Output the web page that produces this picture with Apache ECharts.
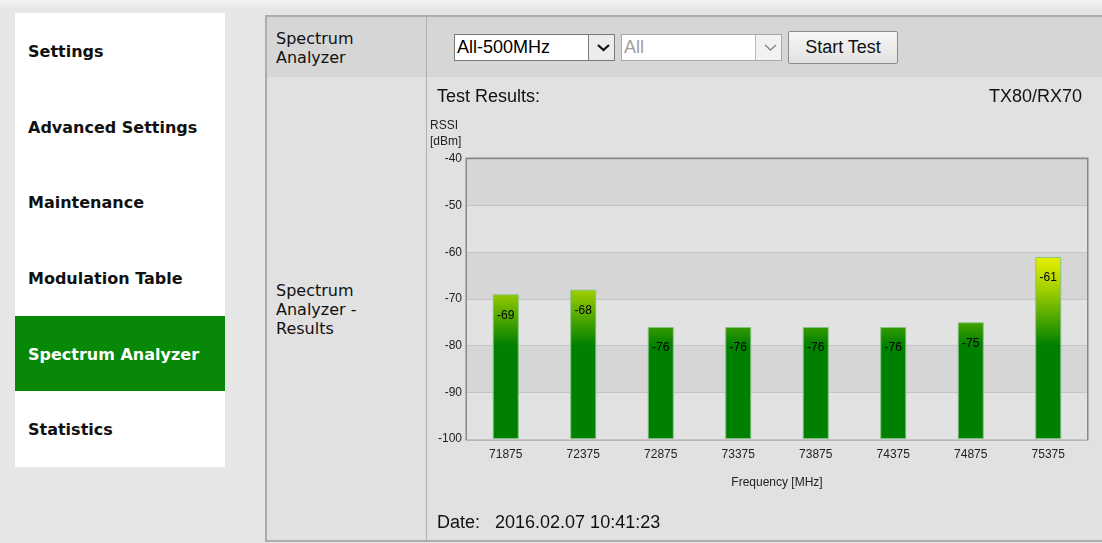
<!DOCTYPE html>
<html>
<head>
<meta charset="utf-8">
<script src="https://cdn.jsdelivr.net/npm/echarts@6/dist/echarts.min.js"></script>
<style>
  html, body { margin: 0; padding: 0; }
  body {
    width: 1102px; height: 543px; overflow: hidden; position: relative;
    background: linear-gradient(#f4f4f4 0px, #e6e6e6 9px, #e6e6e6 100%);
    font-family: "DejaVu Sans", Verdana, sans-serif;
  }
  .menu { position: absolute; left: 15px; top: 13px; width: 210px; height: 454px; background: #fff; }
  .menu div {
    height: 75.67px; line-height: 77px; padding-left: 13px;
    font-weight: bold; font-size: 16px; color: #111; box-sizing: border-box;
  }
  .menu div.on { background: #078907; color: #fff; }
  .tbl {
    position: absolute; left: 265px; top: 15px; width: 850px; height: 523px;
    border: 2px solid #adadad; background: #e0e1e0;
  }
  .head { position: absolute; left: 0; top: 0; right: 0; height: 60px; background: #d6d6d6; }
  .divider { position: absolute; left: 159px; top: 0; bottom: 0; width: 1px; background: #b0b0b0; }
  .cell {
    position: absolute; left: 9px; font-size: 16px; line-height: 19px; color: #111;
  }
  .sel {
    position: absolute; top: 17px; height: 25px; width: 159px; background: #fff;
    border: 1px solid #7a7a7a; font-family: "Liberation Sans", Arial, sans-serif;
    font-size: 18px; line-height: 25px; text-indent: 2px; box-sizing: content-box;
  }
  .sel .btn {
    position: absolute; right: 0; top: 0; width: 25px; height: 25px;
    background: #ececec; border-left: 1px solid #7a7a7a;
  }
  .sel.dis { color: #a0a0a0; border-color: #a8a8a8; }
  .sel.dis .btn { background: #f2f2f2; border-left-color: #b8b8b8; }
  .start {
    position: absolute; left: 521px; top: 14px; width: 108px; height: 31px;
    border: 1px solid #8a8a8a; border-radius: 2px;
    background: linear-gradient(#f6f6f6, #e2e2e2);
    font-family: "Liberation Sans", Arial, sans-serif; font-size: 18px;
    line-height: 31px; text-align: center; color: #111;
  }
  #chart { position: absolute; left: 426px; top: 77px; width: 676px; height: 463px; }
</style>
</head>
<body>
<div class="menu">
  <div>Settings</div>
  <div>Advanced Settings</div>
  <div>Maintenance</div>
  <div>Modulation Table</div>
  <div class="on">Spectrum Analyzer</div>
  <div>Statistics</div>
</div>
<div class="tbl">
  <div class="head"></div>
  <div class="divider"></div>
  <div class="cell" style="top:12px">Spectrum<br>Analyzer</div>
  <div class="cell" style="top:264px">Spectrum<br>Analyzer -<br>Results</div>
  <div class="sel" style="left:187px">All-500MHz
    <div class="btn"><svg width="25" height="25"><polyline points="7,10 12.5,15 18,10" fill="none" stroke="#111" stroke-width="2.2"/></svg></div>
  </div>
  <div class="sel dis" style="left:354px">All
    <div class="btn"><svg width="25" height="25"><polyline points="7,10 12.5,15 18,10" fill="none" stroke="#888" stroke-width="1.5"/></svg></div>
  </div>
  <div class="start">Start Test</div>
</div>
<div id="chart"></div>
<script>
  // 频率 / RSSI
  const freqs = ['71875', '72375', '72875', '73375', '73875', '74375', '74875', '75375'];
  const rssi = [-69, -68, -76, -76, -76, -76, -75, -61];
  const yMin = -100, yMax = -40, yStep = 10;
  const testTitle = 'Test Results:';
  const linkName = 'TX80/RX70';
  const dateText = 'Date:   2016.02.07 10:41:23';

  // colour ramp by value (yellow at top, green below -79)
  const ramp = [[-60, [242, 242, 0]], [-68, [160, 207, 0]], [-80, [0, 128, 0]]];

  function rampColor(v) {
    if (v >= ramp[0][0]) return ramp[0][1];
    for (let i = 0; i < ramp.length - 1; i++) {
      const a = ramp[i], b = ramp[i + 1];
      if (v <= a[0] && v >= b[0]) {
        const t = (a[0] - v) / (a[0] - b[0]);
        return a[1].map((c, k) => Math.round(c + (b[1][k] - c) * t));
      }
    }
    return ramp[ramp.length - 1][1];
  }
  const rgb = c => `rgb(${c[0]},${c[1]},${c[2]})`;

  function barColor(v) {
    const span = v - yMin;
    const stops = [{ offset: 0, color: rgb(rampColor(v)) }];
    ramp.forEach(s => {
      if (s[0] < v && s[0] > yMin) stops.push({ offset: (v - s[0]) / span, color: rgb(s[1]) });
    });
    stops.push({ offset: 1, color: rgb(ramp[ramp.length - 1][1]) });
    return new echarts.graphic.LinearGradient(0, 0, 0, 1, stops);
  }

  // bars grow from the bottom (-100): plot height above yMin, label with real dBm
  const font = '"Liberation Sans", Arial, sans-serif';
  const chart = echarts.init(document.getElementById('chart'));
  chart.setOption({
    animation: false,
    title: [
      { text: testTitle, left: 11, top: 11, padding: 0, textStyle: { fontFamily: font, fontSize: 18, fontWeight: 'normal', color: '#111' } },
      { text: linkName, right: 20, top: 11, padding: 0, textStyle: { fontFamily: font, fontSize: 18, fontWeight: 'normal', color: '#111' } },
      { text: 'RSSI\n[dBm]', left: 4, top: 41, padding: 0, textStyle: { fontFamily: font, fontSize: 12, lineHeight: 16, fontWeight: 'normal', color: '#222' } },
      { text: dateText, left: 11, top: 437, padding: 0, textStyle: { fontFamily: font, fontSize: 18, fontWeight: 'normal', color: '#111' } }
    ],
    grid: {
      left: 41, right: 15, top: 82, bottom: 101,
      show: true, borderColor: '#888', borderWidth: 3, backgroundColor: 'transparent'
    },
    xAxis: {
      type: 'category',
      data: freqs,
      name: 'Frequency [MHz]',
      nameLocation: 'middle',
      nameGap: 38,
      nameTextStyle: { fontFamily: font, fontSize: 12, color: '#222' },
      axisLine: { show: false },
      axisTick: { show: false },
      axisLabel: { fontFamily: font, fontSize: 12, color: '#222', margin: 10 }
    },
    yAxis: {
      type: 'value',
      min: 0, max: yMax - yMin, interval: yStep,
      axisLine: { show: false },
      axisTick: { show: false },
      axisLabel: { fontFamily: font, fontSize: 12, color: '#222', margin: 5, formatter: n => n + yMin },
      splitLine: { lineStyle: { color: '#c4c4c4', width: 1 } },
      splitArea: { show: true, areaStyle: { color: ['#e1e2e1', '#d6d6d6'] } }
    },
    series: [{
      type: 'bar',
      barWidth: 26,
      data: rssi.map(v => ({ value: v - yMin, rssi: v, itemStyle: { color: barColor(v) } })),
      itemStyle: { borderColor: 'rgba(130,195,130,0.9)', borderWidth: 1 },
      label: {
        show: true, position: 'insideTop', distance: 15,
        fontFamily: font, fontSize: 12, color: '#000',
        formatter: p => p.data.rssi
      }
    }]
  });
</script>
</body>
</html>
